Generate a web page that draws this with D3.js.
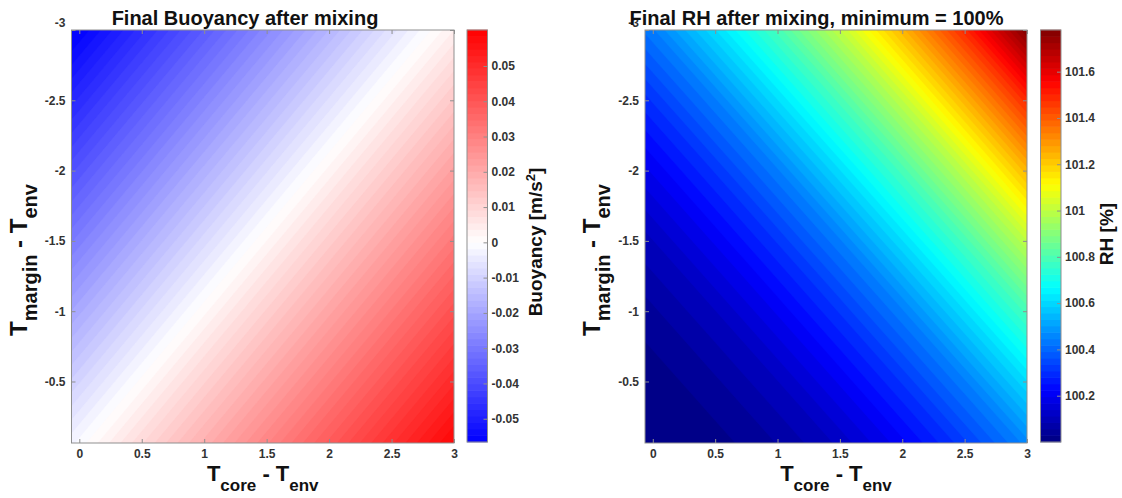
<!DOCTYPE html>
<meta charset="utf-8">
<style>
  body { margin: 0; background: #fff; }
  text { font-family: "Liberation Sans", Arial, Helvetica, sans-serif; }
</style>
<div id="chart"></div>
<script src="https://d3js.org/d3.v7.min.js"></script>
<script>

// grid nodes (Tcore - Tenv across, Tmargin - Tenv down)
var xGrid = [-0.5, 0, 0.5, 1, 1.5, 2, 2.5, 3];
var yGrid = [-3, -2.5, -2, -1.5, -1, -0.5, 0];

// final buoyancy [m/s2], one row per yGrid value
var buoyancy = [
  [-0.0664, -0.0564, -0.0464, -0.0364, -0.0264, -0.0164, -0.0064, 0.0036],
  [-0.0570, -0.0470, -0.0370, -0.0270, -0.0170, -0.0070, 0.0030, 0.0130],
  [-0.0476, -0.0376, -0.0276, -0.0176, -0.0076, 0.0024, 0.0124, 0.0224],
  [-0.0382, -0.0282, -0.0182, -0.0082, 0.0018, 0.0118, 0.0218, 0.0318],
  [-0.0288, -0.0188, -0.0088, 0.0012, 0.0112, 0.0212, 0.0312, 0.0412],
  [-0.0194, -0.0094, 0.0006, 0.0106, 0.0206, 0.0306, 0.0406, 0.0506],
  [-0.0100, 0.0000, 0.0100, 0.0200, 0.0300, 0.0400, 0.0500, 0.0600]
];

// final RH [%], one row per yGrid value
var rh = [
  [100.31, 100.44, 100.61, 100.79, 101.00, 101.24, 101.49, 101.78],
  [100.20, 100.31, 100.44, 100.61, 100.79, 101.00, 101.24, 101.49],
  [100.11, 100.20, 100.31, 100.44, 100.61, 100.79, 101.00, 101.24],
  [100.05, 100.11, 100.20, 100.31, 100.44, 100.61, 100.79, 101.00],
  [100.01, 100.05, 100.11, 100.20, 100.31, 100.44, 100.61, 100.79],
  [100.00, 100.01, 100.05, 100.11, 100.20, 100.31, 100.44, 100.61],
  [100.01, 100.00, 100.01, 100.05, 100.11, 100.20, 100.31, 100.44]
];

var xLimits = [-0.0625, 3];
var yLimits = [-3, -0.0625];
var xTicks = [0, 0.5, 1, 1.5, 2, 2.5, 3];
var yTicks = [-3, -2.5, -2, -1.5, -1, -0.5];

var buoyancyRange = [-0.0566, 0.0602];
var buoyancyTicks = [-0.05, -0.04, -0.03, -0.02, -0.01, 0, 0.01, 0.02, 0.03, 0.04, 0.05];
var rhRange = [100.0, 101.78];
var rhTicks = [100.2, 100.4, 100.6, 100.8, 101, 101.2, 101.4, 101.6];

var W = 1122, H = 498;
var svg = d3.select("#chart").append("svg")
    .attr("width", W)
    .attr("height", H);

svg.append("rect").attr("width", W).attr("height", H).attr("fill", "#fff");

var bwr = function(range) {
  return d3.scaleLinear()
    .domain([range[0], 0, range[1]])
    .range(["#0000ff", "#ffffff", "#ff0000"])
    .clamp(true);
};

var jet = function(range) {
  var s = d3.scaleLinear()
    .domain([0, 0.125, 0.375, 0.625, 0.875, 1])
    .range(["#000080", "#0000ff", "#00ffff", "#ffff00", "#ff0000", "#800000"])
    .clamp(true);
  return function(v) { return s((v - range[0]) / (range[1] - range[0])); };
};

var fmt = function(d) { return String(d); };
var tickColor = "#333";
var frameColor = "#8f8f8f";

function drawPanel(p) {
  var x = d3.scaleLinear().domain(xLimits).range([p.left, p.right]);
  var y = d3.scaleLinear().domain(yLimits).range([p.top, p.bottom]);
  var nx = xGrid.length, ny = yGrid.length;
  var step = xGrid[1] - xGrid[0];
  var flat = [].concat.apply([], p.values);

  var clipId = "clip-" + p.id;
  svg.append("clipPath").attr("id", clipId)
    .append("rect")
      .attr("x", p.left).attr("y", p.top)
      .attr("width", p.right - p.left).attr("height", p.bottom - p.top);

  // filled contours, like contourf with many levels
  var nLevels = 64;
  var lo = d3.min(flat);
  var cr = p.range;
  var thresholds = [lo].concat(d3.range(1, nLevels).map(function(i) {
    return cr[0] + (cr[1] - cr[0]) * i / nLevels;
  }));
  var contours = d3.contours().size([nx, ny]).thresholds(thresholds)(flat);

  var proj = d3.geoTransform({
    point: function(cx, cy) {
      this.stream.point(
        x(xGrid[0] + (cx - 0.5) * step),
        y(yGrid[0] + (cy - 0.5) * step));
    }
  });
  var path = d3.geoPath(proj);
  var dl = (cr[1] - cr[0]) / nLevels;
  var fillOf = function(d, i) {
    return p.color(i === 0 ? cr[0] + dl / 2 : d.value + dl / 2);
  };

  svg.append("g")
    .attr("clip-path", "url(#" + clipId + ")")
    .selectAll("path")
    .data(contours)
    .enter().append("path")
      .attr("d", path)
      .attr("fill", fillOf)
      .attr("stroke", fillOf)
      .attr("stroke-width", 0.4);

  // axes, MATLAB style ticks pointing inward
  var gx = svg.append("g")
    .attr("transform", "translate(0," + p.bottom + ")")
    .call(d3.axisBottom(x).tickValues(xTicks).tickFormat(fmt).tickSize(-4).tickPadding(6));
  svg.append("g")
    .attr("transform", "translate(0," + p.top + ")")
    .call(d3.axisTop(x).tickValues(xTicks).tickFormat("").tickSize(-4));
  var gy = svg.append("g")
    .attr("transform", "translate(" + p.left + ",0)")
    .call(d3.axisLeft(y).tickValues(yTicks).tickFormat(fmt).tickSize(-4).tickPadding(6));
  svg.append("g")
    .attr("transform", "translate(" + p.right + ",0)")
    .call(d3.axisRight(y).tickValues(yTicks).tickFormat("").tickSize(-4));

  svg.selectAll(".domain").remove();
  [gx, gy].forEach(function(g) {
    g.selectAll("text")
      .attr("fill", tickColor)
      .style("font-size", "12px")
      .style("font-weight", "bold");
  });
  svg.selectAll(".tick line").attr("stroke", frameColor);
  gy.selectAll(".tick text").filter(function(d) { return d === -3; })
    .attr("dy", "-0.3em");

  svg.append("rect")
    .attr("x", p.left).attr("y", p.top)
    .attr("width", p.right - p.left).attr("height", p.bottom - p.top)
    .attr("fill", "none").attr("stroke", frameColor).attr("stroke-width", 1);

  // title
  svg.append("text")
    .attr("x", p.titleX).attr("y", 24.5)
    .attr("text-anchor", "middle")
    .style("font-size", "20px").style("font-weight", "bold")
    .attr("fill", "#111")
    .text(p.title);

  // x label
  var xl = svg.append("text")
    .attr("x", (p.left + p.right) / 2).attr("y", 481)
    .attr("text-anchor", "middle")
    .style("font-weight", "bold").attr("fill", "#111");
  xl.append("tspan").style("font-size", "22px").text("T");
  xl.append("tspan").style("font-size", "17px").attr("dy", 10).text("core");
  xl.append("tspan").style("font-size", "22px").attr("dy", -10).text(" - T");
  xl.append("tspan").style("font-size", "17px").attr("dy", 10).text("env");

  // y label
  var yl = svg.append("text")
    .attr("transform", "translate(" + (p.left - 45) + ",260) rotate(-90)")
    .attr("text-anchor", "middle")
    .style("font-weight", "bold").attr("fill", "#111");
  yl.append("tspan").style("font-size", "24px").text("T");
  yl.append("tspan").style("font-size", "20px").attr("dy", 10).text("margin");
  yl.append("tspan").style("font-size", "24px").attr("dy", -10).text(" - T");
  yl.append("tspan").style("font-size", "20px").attr("dy", 10).text("env");

  // colorbar
  var cb = d3.scaleLinear().domain(cr).range([p.bottom - 1, p.top]);
  var nSteps = 64;
  var cbSteps = d3.range(nSteps).map(function(i) {
    return cr[0] + (cr[1] - cr[0]) * (i + 0.5) / nSteps;
  });
  var bh = (cb.range()[0] - cb.range()[1]) / nSteps;
  svg.append("g").selectAll("rect")
    .data(cbSteps)
    .enter().append("rect")
      .attr("x", p.cbLeft)
      .attr("y", function(d) { return cb(d) - bh / 2 - 0.3; })
      .attr("width", p.cbRight - p.cbLeft)
      .attr("height", bh + 0.6)
      .attr("fill", function(d) { return p.color(d); });

  var gc = svg.append("g")
    .attr("transform", "translate(" + p.cbRight + ",0)")
    .call(d3.axisRight(cb).tickValues(p.ticks).tickFormat(fmt).tickSize(-4).tickPadding(4));
  gc.select(".domain").remove();
  gc.selectAll(".tick line").attr("stroke", frameColor);
  gc.selectAll("text")
    .attr("fill", tickColor)
    .style("font-size", "12px")
    .style("font-weight", "bold");

  svg.append("rect")
    .attr("x", p.cbLeft).attr("y", p.top)
    .attr("width", p.cbRight - p.cbLeft).attr("height", cb.range()[0] - p.top)
    .attr("fill", "none").attr("stroke", frameColor).attr("stroke-width", 1);

  var cl = svg.append("text")
    .attr("transform", "translate(" + p.cbLabelX + "," + p.cbLabelY + ") rotate(-90)")
    .attr("text-anchor", "middle")
    .style("font-weight", "bold").style("font-size", "19px")
    .attr("fill", "#111");
  p.cbLabel(cl);
}

drawPanel({
  id: "buoy", left: 71.5, right: 454, top: 30, bottom: 443,
  values: buoyancy, range: buoyancyRange, color: bwr(buoyancyRange),
  ticks: buoyancyTicks, cbLeft: 467, cbRight: 487.5,
  title: "Final Buoyancy after mixing", titleX: 245,
  cbLabelX: 542, cbLabelY: 242,
  cbLabel: function(t) {
    t.append("tspan").text("Buoyancy [m/s");
    t.append("tspan").attr("dy", -7).style("font-size", "13px").text("2");
    t.append("tspan").attr("dy", 7).text("]");
  }
});

drawPanel({
  id: "rh", left: 645, right: 1027, top: 30, bottom: 443,
  values: rh, range: rhRange, color: jet(rhRange),
  ticks: rhTicks, cbLeft: 1040.5, cbRight: 1061,
  title: "Final RH after mixing, minimum = 100%", titleX: 816.5,
  cbLabelX: 1113, cbLabelY: 234,
  cbLabel: function(t) { t.text("RH [%]"); }
});

</script>
